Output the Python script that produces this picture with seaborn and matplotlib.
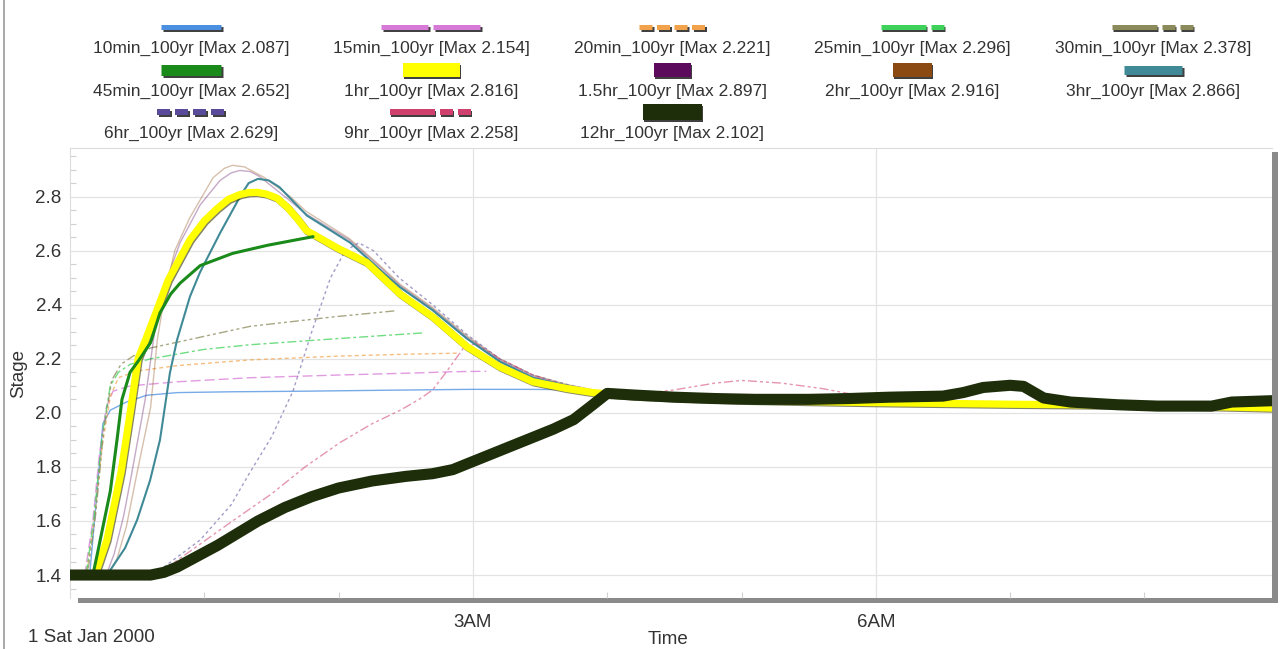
import numpy as np
import pandas as pd
import matplotlib
matplotlib.use("Agg")
import matplotlib.pyplot as plt
import matplotlib.patheffects as pe
from matplotlib.lines import Line2D
from matplotlib.patches import Rectangle
from matplotlib.ticker import MultipleLocator, FixedLocator
import seaborn as sns

# ---------------- data (time in hours after midnight, stage) ----------------
t10 = [0, 0.10, 0.15, 0.20, 0.245, 0.30, 0.42, 0.57, 0.80, 1.2, 1.71, 2.4, 2.98, 3.4, 3.7]
v10 = [1.40, 1.40, 1.42, 1.70, 1.96, 2.01, 2.04, 2.065, 2.075, 2.078, 2.08, 2.084, 2.087, 2.087, 2.086]

t15 = [0, 0.11, 0.17, 0.22, 0.27, 0.32, 0.45, 0.8, 1.34, 2.0, 2.6, 2.83, 3.1]
v15 = [1.40, 1.40, 1.60, 1.85, 2.02, 2.08, 2.10, 2.115, 2.13, 2.14, 2.148, 2.152, 2.154]

t20 = [0, 0.12, 0.18, 0.24, 0.30, 0.36, 0.5, 0.8, 1.34, 2.0, 2.5, 2.9]
v20 = [1.40, 1.40, 1.60, 1.88, 2.06, 2.13, 2.155, 2.175, 2.196, 2.21, 2.217, 2.221]

t25 = [0, 0.12, 0.18, 0.24, 0.30, 0.36, 0.45, 0.6, 1.0, 1.34, 2.0, 2.63]
v25 = [1.40, 1.40, 1.62, 1.92, 2.10, 2.15, 2.18, 2.20, 2.235, 2.252, 2.275, 2.296]

t30 = [0, 0.13, 0.19, 0.25, 0.31, 0.38, 0.47, 0.6, 0.97, 1.34, 1.96, 2.43]
v30 = [1.40, 1.40, 1.62, 1.93, 2.12, 2.18, 2.21, 2.24, 2.28, 2.32, 2.355, 2.378]

t45 = [0, 0.17, 0.20, 0.25, 0.30, 0.35, 0.387, 0.447, 0.52, 0.60, 0.67, 0.75, 0.82, 0.97,
       1.21, 1.47, 1.81]
v45 = [1.40, 1.40, 1.47, 1.59, 1.71, 1.90, 2.05, 2.15, 2.20, 2.26, 2.37, 2.44, 2.48, 2.545,
       2.59, 2.62, 2.652]

t1h = [0, 0.18, 0.20, 0.275, 0.38, 0.454, 0.507, 0.57, 0.655, 0.73, 0.893, 1.0, 1.094, 1.18,
       1.266, 1.33, 1.39, 1.46, 1.54, 1.62, 1.69, 1.76, 1.99, 2.21, 2.457, 2.70, 2.955, 3.20,
       3.447, 3.70, 3.894, 4.2, 4.6, 5.0, 5.5, 6.0, 6.5, 7.0, 7.5, 8.0, 8.5, 8.95]
v1h = [1.40, 1.40, 1.42, 1.53, 1.78, 2.02, 2.20, 2.28, 2.39, 2.49, 2.64, 2.71, 2.755, 2.79,
       2.808, 2.815, 2.816, 2.81, 2.795, 2.76, 2.72, 2.675, 2.61, 2.556, 2.44, 2.355, 2.245, 2.17,
       2.115, 2.09, 2.075, 2.062, 2.054, 2.047, 2.042, 2.038, 2.035, 2.032, 2.03, 2.027, 2.023,
       2.018]

t_tail = [4.2, 4.6, 5.0, 5.5, 6.0, 6.5, 7.0, 7.5, 8.0, 8.5, 8.95]
v_tail = [2.064, 2.056, 2.05, 2.045, 2.041, 2.038, 2.035, 2.032, 2.029, 2.025, 2.02]

t15h = [0, 0.27, 0.33, 0.40, 0.45, 0.56, 0.63, 0.71, 0.82, 0.97, 1.117, 1.20, 1.266, 1.34,
        1.41, 1.60, 1.76, 2.08, 2.33, 2.46, 2.70, 2.955, 3.20, 3.447, 3.70, 3.894]
v15h = [1.40, 1.40, 1.48, 1.62, 1.75, 2.05, 2.30, 2.48, 2.63, 2.77, 2.86, 2.888, 2.897, 2.893,
        2.875, 2.80, 2.735, 2.64, 2.53, 2.47, 2.385, 2.28, 2.195, 2.135, 2.10, 2.082]

t2h = [0, 0.28, 0.35, 0.42, 0.50, 0.60, 0.65, 0.71, 0.78, 0.89, 1.065, 1.15, 1.21, 1.30, 1.45,
       1.64, 1.76, 2.08, 2.33, 2.46, 2.70, 2.955, 3.20, 3.447, 3.70, 3.894]
v2h = [1.40, 1.40, 1.46, 1.58, 1.78, 2.02, 2.27, 2.45, 2.60, 2.72, 2.87, 2.905, 2.916, 2.91,
       2.87, 2.80, 2.745, 2.645, 2.535, 2.475, 2.39, 2.285, 2.20, 2.14, 2.105, 2.085]

t3h = [0, 0.25, 0.30, 0.41, 0.50, 0.596, 0.67, 0.744, 0.797, 0.893, 0.968, 1.117, 1.266,
       1.33, 1.40, 1.48, 1.56, 1.764, 2.085, 2.33, 2.457, 2.70, 2.955, 3.20, 3.447, 3.70, 3.894]
v3h = [1.40, 1.40, 1.418, 1.50, 1.604, 1.75, 1.90, 2.148, 2.27, 2.43, 2.52, 2.665, 2.80,
       2.85, 2.866, 2.86, 2.835, 2.73, 2.63, 2.52, 2.465, 2.38, 2.275, 2.19, 2.13, 2.10, 2.08]

t6h = [0, 0.60, 0.70, 0.97, 1.20, 1.34, 1.50, 1.66, 1.80, 1.94, 2.05, 2.15, 2.26, 2.45,
       2.70, 2.955, 3.20, 3.447, 3.70, 3.894]
v6h = [1.40, 1.40, 1.43, 1.53, 1.66, 1.78, 1.91, 2.08, 2.30, 2.50, 2.60, 2.629, 2.60, 2.50,
       2.40, 2.29, 2.20, 2.14, 2.105, 2.083]

t9h = [0, 0.55, 0.67, 0.90, 1.21, 1.50, 1.75, 2.01, 2.25, 2.46, 2.60, 2.70, 2.80, 2.93, 3.02,
       3.20, 3.447, 3.70, 3.894, 4.2, 4.5, 4.8, 5.0, 5.3, 5.6, 5.9, 6.1, 6.5, 7.0, 7.5, 8.0,
       8.5, 8.95]
v9h = [1.40, 1.40, 1.41, 1.49, 1.60, 1.70, 1.80, 1.89, 1.96, 2.01, 2.05, 2.085, 2.15, 2.24, 2.258,
       2.20, 2.14, 2.10, 2.082, 2.068, 2.085, 2.11, 2.12, 2.11, 2.09, 2.062, 2.05, 2.045, 2.04,
       2.035, 2.03, 2.026, 2.02]

t12h = [0, 0.6, 0.7, 0.8, 0.95, 1.1, 1.25, 1.4, 1.6, 1.8, 2.0, 2.25, 2.5, 2.7, 2.85, 3.0,
        3.2, 3.4, 3.6, 3.75, 3.88, 4.0, 4.2, 4.5, 4.8, 5.1, 5.5, 5.8, 6.1, 6.5, 6.65, 6.8,
        7.0, 7.1, 7.25, 7.45, 7.8, 8.1, 8.5, 8.65, 8.95]
v12h = [1.40, 1.40, 1.41, 1.43, 1.47, 1.51, 1.555, 1.60, 1.65, 1.69, 1.722, 1.748, 1.765,
        1.775, 1.79, 1.82, 1.86, 1.90, 1.94, 1.975, 2.025, 2.072, 2.066, 2.058, 2.053, 2.05,
        2.05, 2.053, 2.058, 2.062, 2.075, 2.094, 2.102, 2.098, 2.055, 2.04, 2.03, 2.025, 2.025,
        2.04, 2.045]

labels = ["10min_100yr [Max 2.087]", "15min_100yr [Max 2.154]", "20min_100yr [Max 2.221]",
          "25min_100yr [Max 2.296]", "30min_100yr [Max 2.378]", "45min_100yr [Max 2.652]",
          "1hr_100yr [Max 2.816]", "1.5hr_100yr [Max 2.897]", "2hr_100yr [Max 2.916]",
          "3hr_100yr [Max 2.866]", "6hr_100yr [Max 2.629]", "9hr_100yr [Max 2.258]",
          "12hr_100yr [Max 2.102]"]
y_ticks = [1.4, 1.6, 1.8, 2.0, 2.2, 2.4, 2.6, 2.8]
x_ticks = [3, 6]
x_ticklabels = ["3AM", "6AM"]

# ---------------- styling ----------------
sns.set_theme(style="white")
plt.rcParams['font.family'] = ['Liberation Sans', 'DejaVu Sans']
plt.rcParams['lines.scale_dashes'] = False

W, H = 1280, 649
fig = plt.figure(figsize=(W / 100, H / 100), dpi=100)
fig.patch.set_facecolor("white")
ax = fig.add_axes([70 / W, 51 / H, 1202 / W, 450 / H])
ax.set_facecolor("white")

# drop-shadow frame (gray bars at bottom/right)
fig.add_artist(Rectangle((78 / W, 46 / H), 1200 / W, 451 / H, transform=fig.transFigure,
                         facecolor="#8a8a8a", edgecolor="none", zorder=-1))
# thin border at left of the figure
fig.add_artist(Line2D([4 / W, 4 / W], [0, 1], transform=fig.transFigure,
                      color="#9a9a9a", lw=1.2))

px = 0.72  # points per pixel

def p(px_list):
    return tuple(v * px for v in px_list)

# in label order: t, v, color, lw(pt), dashes(px) or None, alpha, zorder, shadow, tail
series = [
    (t10, v10, "#4a8fe0", 1.0, None, 0.75, 2, False, False),
    (t15, v15, "#d77ad7", 1.0, (10, 4), 0.75, 2, False, False),
    (t20, v20, "#f2a24a", 1.0, (4, 3), 0.7, 2, False, False),
    (t25, v25, "#3fd25a", 1.0, (9, 3, 3, 3), 0.75, 2, False, False),
    (t30, v30, "#8a8a5a", 1.0, (9, 3, 3, 3, 3, 3), 0.75, 2, False, False),
    (t45, v45, "#1a8a1a", 2.2, None, 1.0, 5, False, False),
    (t1h, v1h, "#ffff00", 5.2, None, 1.0, 4, True, False),
    (t15h, v15h, "#5c0a5c", 1.0, None, 0.35, 2, False, True),
    (t2h, v2h, "#8b4a12", 1.0, None, 0.35, 2, False, True),
    (t3h, v3h, "#3f8a96", 1.5, None, 1.0, 3, False, True),
    (t6h, v6h, "#5a4a9a", 1.0, (3, 3), 0.55, 2, False, True),
    (t9h, v9h, "#d0406e", 1.0, (9, 3, 3, 3, 3, 3), 0.55, 2, False, False),
    (t12h, v12h, "#1e2e0a", 8.0, None, 1.0, 6, False, False),
]

for s in series:
    t, v = list(s[0]), list(s[1])
    if s[8]:
        t = t + t_tail
        v = v + v_tail
    df = pd.DataFrame({"Time": t, "Stage": v})
    kw = dict(color=s[2], lw=s[3], alpha=s[5], zorder=s[6], solid_joinstyle="round",
              solid_capstyle="round")
    if s[4] is not None:
        kw["linestyle"] = (0, p(s[4]))
    if s[7]:
        kw["path_effects"] = [pe.SimpleLineShadow(offset=(0.8, -0.8), shadow_color="#333300",
                                                  alpha=0.6), pe.Normal()]
    sns.lineplot(data=df, x="Time", y="Stage", ax=ax, sort=False, estimator=None,
                 legend=False, **kw)

ax.set_xlim(0, 8.95)
ax.set_ylim(1.315, 2.98)
ax.set_yticks(y_ticks)
ax.set_yticklabels([f"{v:.1f}" for v in y_ticks])
ax.set_xticks(x_ticks)
ax.set_xticklabels(x_ticklabels)
ax.yaxis.set_minor_locator(MultipleLocator(0.05))
ax.xaxis.set_minor_locator(FixedLocator([1, 2, 4, 5, 7, 8]))
ax.tick_params(axis="both", which="major", length=0, labelsize=13.5, labelcolor="#333333")
ax.tick_params(axis="y", which="major", pad=6)
ax.tick_params(axis="x", which="major", pad=11.5)
ax.tick_params(axis="y", which="minor", direction="in", length=4, width=0.8, color="#d0d0d0",
               left=True)
ax.tick_params(axis="x", which="minor", direction="in", length=4, width=0.8, color="#d0d0d0",
               bottom=True)
ax.grid(True, which="major", color="#e3e3e3", lw=0.9)
for side in ["top", "left"]:
    ax.spines[side].set_color("#dcdcdc")
    ax.spines[side].set_linewidth(0.8)
for side in ["bottom", "right"]:
    ax.spines[side].set_visible(False)

ax.set_xlabel("")
ax.set_ylabel("Stage", fontsize=13.5, color="#333333")
ax.yaxis.set_label_coords((27 - 70) / 1202, 0.5)
fig.text(668 / W, 1 - 640 / H, "Time", ha="center", va="center", fontsize=13.5, color="#333333")
fig.text(28 / W, 1 - 638 / H, "1 Sat Jan 2000", ha="left", va="center", fontsize=13.5,
         color="#333333")

# ---------------- legend (swatch above text, 5 columns) ----------------
col_x = [191, 431, 672, 912, 1153]
sw_y = [27, 70, 112]
tx_y = [48, 91, 133]
swatches = [
    # width px, thickness px, dashes px
    (60, 5, None), (100, 5, (47, 5)), (66, 5, (13, 4.5)), (63, 5, (45, 5, 13, 5)),
    (83, 5, (45, 5, 13, 5, 13, 5)),
    (60, 11, None), (57, 14, None), (37, 14, None), (39, 14, None), (58, 9, None),
    (68, 6, (13, 5)), (83, 6, (45, 5, 13, 5, 13, 5)), (59, 16, None),
]
for i, (lab, s, sw) in enumerate(zip(labels, series, swatches)):
    r, c = divmod(i, 5)
    cx, w, th = col_x[c], sw[0], sw[1]
    kw = dict(color=s[2], lw=th * px, solid_capstyle="butt", dash_capstyle="butt",
              transform=fig.transFigure,
              path_effects=[pe.SimpleLineShadow(offset=(1.2, -1.2), shadow_color="black",
                                                alpha=0.75), pe.Normal()])
    if sw[2] is not None:
        kw["linestyle"] = (0, p(sw[2]))
    fig.add_artist(Line2D([(cx - w / 2) / W, (cx + w / 2) / W], [1 - sw_y[r] / H] * 2, **kw))
    fig.text(cx / W, 1 - tx_y[r] / H, lab, ha="center", va="center", fontsize=12.5,
             color="#333333")

fig.savefig("out.png", dpi=100, facecolor="white")
